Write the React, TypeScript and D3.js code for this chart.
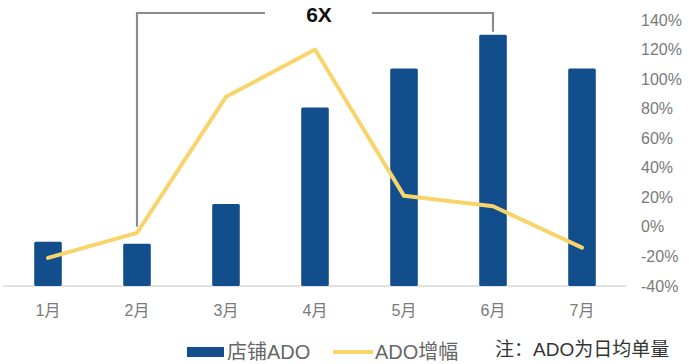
import * as d3 from "d3";
import { useEffect, useRef } from "react";

const months = ["1月", "2月", "3月", "4月", "5月", "6月", "7月"];
// store ADO (relative units, hidden left axis)
const storeAdo = [10.5, 10, 19.4, 42.3, 51.5, 59.5, 51.5];
// ADO growth (%)
const adoGrowth = [-21, -4, 88, 120, 21, 14, -14];
const rightTicks = [-40, -20, 0, 20, 40, 60, 80, 100, 120, 140];

const BAR_COLOR = "#124e8c";
const LINE_COLOR = "#f7d56c";
const TEXT_GRAY = "#7a7a7a";
const FONT = "'Liberation Sans', Arial, 'Noto Sans CJK SC', sans-serif";

export default function App() {
  const svgRef = useRef<SVGSVGElement>(null);
  const width = 691;
  const height = 364;

  useEffect(() => {
    if (!svgRef.current) return;
    const svg = d3.select(svgRef.current);
    svg.selectAll("*").remove();

    const x = d3.scaleBand<string>().domain(months).range([3.5, 626.5]);
    const cx = (m: string) => (x(m) ?? 0) + x.bandwidth() / 2;
    const barW = x.bandwidth() * 0.31;

    const yBar = d3.scaleLinear().domain([0, 63]).range([286, 20]);
    const yPct = d3.scaleLinear().domain([-40, 140]).range([286, 20]);

    // baseline
    svg
      .append("line")
      .attr("x1", 3)
      .attr("x2", 626)
      .attr("y1", yPct(-40))
      .attr("y2", yPct(-40))
      .style("stroke", "#d9d9d9")
      .style("stroke-width", 1.5);

    // right axis labels
    svg
      .append("g")
      .selectAll("text")
      .data(rightTicks)
      .join("text")
      .attr("x", 641)
      .attr("y", (d) => yPct(d))
      .attr("dy", "0.35em")
      .style("font-family", FONT)
      .style("font-size", "16px")
      .style("fill", TEXT_GRAY)
      .text((d) => `${d}%`);

    // x labels
    svg
      .append("g")
      .selectAll("text")
      .data(months)
      .join("text")
      .attr("x", (d) => cx(d))
      .attr("y", 310)
      .attr("dy", "0.35em")
      .attr("text-anchor", "middle")
      .style("font-family", FONT)
      .style("font-size", "16px")
      .style("fill", TEXT_GRAY)
      .text((d) => d);

    // bars
    svg
      .append("g")
      .selectAll("rect")
      .data(months)
      .join("rect")
      .attr("x", (d) => cx(d) - barW / 2)
      .attr("y", (_, i) => yBar(storeAdo[i]))
      .attr("width", barW)
      .attr("height", (_, i) => yBar(0) - yBar(storeAdo[i]))
      .attr("rx", 1.5)
      .style("fill", BAR_COLOR);

    // growth line
    const line = d3
      .line<number>()
      .x((_, i) => cx(months[i]))
      .y((d) => yPct(d));

    svg
      .append("path")
      .datum(adoGrowth)
      .attr("d", line)
      .style("fill", "none")
      .style("stroke", LINE_COLOR)
      .style("stroke-width", 4)
      .style("stroke-linejoin", "round")
      .style("stroke-linecap", "round");

    // 6X bracket between Feb and Jun
    const bx1 = cx("2月");
    const bx2 = cx("6月");
    const topY = 13;
    const gapL = 265;
    const gapR = 372;
    const bracket = svg
      .append("g")
      .style("fill", "none")
      .style("stroke", "#8c8c8c")
      .style("stroke-width", 2.2);
    bracket
      .append("path")
      .attr("d", `M${bx1},${yPct(adoGrowth[1]) - 6}V${topY}H${gapL}`);
    bracket
      .append("path")
      .attr("d", `M${gapR},${topY}H${bx2}V${yBar(storeAdo[5]) - 3}`);

    svg
      .append("text")
      .attr("x", (gapL + gapR) / 2 + 0.5)
      .attr("y", topY + 1)
      .attr("dy", "0.36em")
      .attr("text-anchor", "middle")
      .style("font-family", FONT)
      .style("font-size", "21px")
      .style("font-weight", "bold")
      .style("fill", "#111")
      .text("6X");

    // legend
    const legendY = 352;
    svg
      .append("rect")
      .attr("x", 187)
      .attr("y", legendY - 5)
      .attr("width", 37)
      .attr("height", 10)
      .style("fill", BAR_COLOR);
    svg
      .append("text")
      .attr("x", 227)
      .attr("y", legendY)
      .attr("dy", "0.35em")
      .style("font-family", FONT)
      .style("font-size", "20px")
      .style("fill", "#666")
      .text("店铺ADO");

    svg
      .append("line")
      .attr("x1", 333)
      .attr("x2", 373)
      .attr("y1", legendY)
      .attr("y2", legendY)
      .style("stroke", LINE_COLOR)
      .style("stroke-width", 4);
    svg
      .append("text")
      .attr("x", 375)
      .attr("y", legendY)
      .attr("dy", "0.35em")
      .style("font-family", FONT)
      .style("font-size", "20px")
      .style("fill", "#666")
      .text("ADO增幅");

    svg
      .append("text")
      .attr("x", 495)
      .attr("y", 349)
      .attr("dy", "0.35em")
      .style("font-family", FONT)
      .style("font-size", "19px")
      .style("fill", "#333")
      .text("注：ADO为日均单量");
  }, []);

  return (
    <svg
      ref={svgRef}
      width={width}
      height={height}
      style={{ position: "absolute", left: 0, top: 0, background: "#fff" }}
    />
  );
}
